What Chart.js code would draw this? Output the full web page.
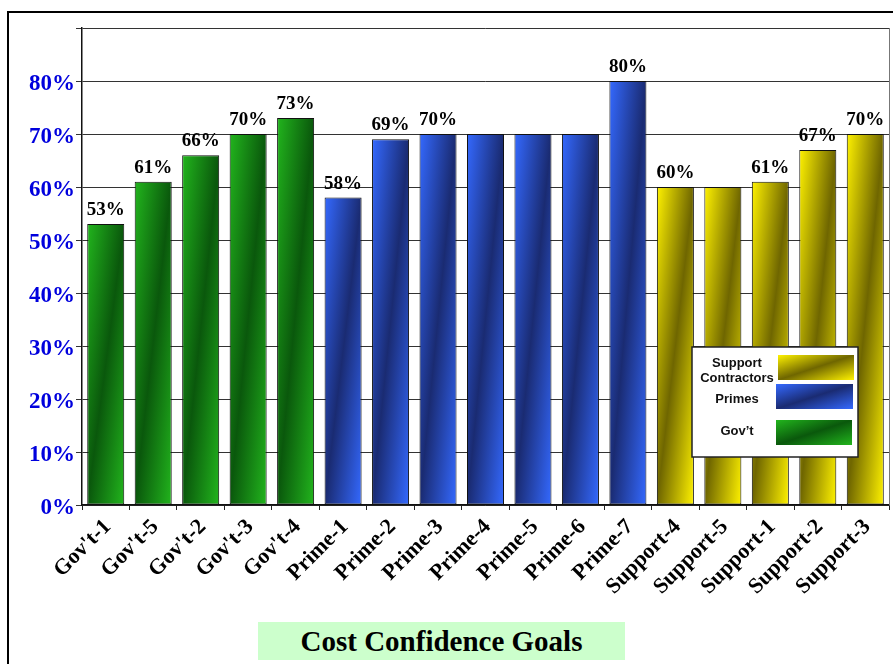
<!DOCTYPE html>
<html>
<head>
<meta charset="utf-8">
<script src="https://cdn.jsdelivr.net/npm/chart.js@4.4.1/dist/chart.umd.min.js"></script>
<style>
  html, body { margin: 0; padding: 0; background: #fff; overflow: hidden; }
  #wrap { position: relative; width: 893px; height: 664px; }
  #frame { position: absolute; left: 7px; top: 11px; width: 920px; height: 700px; border: 2px solid #000; }
  #goals { position: absolute; left: 0; top: 0; }
  #title {
    position: absolute; left: 258px; top: 622px; width: 367px; height: 38px;
    background: #ccffcc; font: bold 29px "Liberation Serif", "Times New Roman", serif;
    color: #000; text-align: center; line-height: 38px;
  }
</style>
</head>
<body>
<div id="wrap">
  <div id="frame"></div>
  <canvas id="goals" width="893" height="664"></canvas>
  <div id="title">Cost Confidence Goals</div>
</div>
<script>
// Categories and their group (gov / prime / support)
const categories = ["Gov't-1", "Gov't-5", "Gov't-2", "Gov't-3", "Gov't-4",
  'Prime-1', 'Prime-2', 'Prime-3', 'Prime-4', 'Prime-5', 'Prime-6', 'Prime-7',
  'Support-4', 'Support-5', 'Support-1', 'Support-2', 'Support-3'];
const groups = ['gov', 'gov', 'gov', 'gov', 'gov',
  'prime', 'prime', 'prime', 'prime', 'prime', 'prime', 'prime',
  'support', 'support', 'support', 'support', 'support'];
// Confidence goal in percent
const goalValues = [53, 61, 66, 70, 73, 58, 69, 70, 70, 70, 70, 80, 60, 60, 61, 67, 70];
// Which bars carry a value label (null = no label)
const valueLabels = [53, 61, 66, 70, 73, 58, 69, 70, null, null, null, 80, 60, null, 61, 67, 70];
// Axis ticks
const yTicks = [0, 10, 20, 30, 40, 50, 60, 70, 80, 90];

const palette = {
  gov: { light: '#22b51d', dark: '#0a580c', name: 'Gov\u2019t' },
  prime: { light: '#3469ff', dark: '#1a2b72', name: 'Primes' },
  support: { light: '#fff200', dark: '#6f6600', name: 'Support\nContractors' }
};

const serif = '"Liberation Serif", "Times New Roman", serif';
const sans = '"Liberation Sans", Arial, sans-serif';
const BAR_FRACTION = 0.78;

// light -> dark -> light along a shallow diagonal, like the old office fill
function diagGradient(ctx, left, top, w, h, light, dark) {
  const k = 2 * w * h / (h * h + w * w);
  const g = ctx.createLinearGradient(left, top, left + k * h, top + k * w);
  g.addColorStop(0, light);
  g.addColorStop(0.5, dark);
  g.addColorStop(1, light);
  return g;
}

function barFill(context) {
  const grp = palette[groups[context.dataIndex]];
  const chart = context.chart;
  const xs = chart.scales.x, ys = chart.scales.y;
  if (!xs || !ys || context.type !== 'data') return grp.light;
  const w = xs.width / categories.length * BAR_FRACTION;
  const left = xs.getPixelForValue(context.dataIndex) - w / 2;
  const top = ys.getPixelForValue(context.raw);
  const h = ys.getPixelForValue(0) - top;
  if (![w, left, top, h].every(Number.isFinite) || w <= 0 || h <= 0) return grp.light;
  return diagGradient(chart.ctx, left, top, w, h, grp.light, grp.dark);
}

// value labels over bars
const valueLabelPlugin = {
  id: 'valueLabels',
  afterDatasetsDraw(chart) {
    const ctx = chart.ctx;
    const meta = chart.getDatasetMeta(0);
    ctx.save();
    ctx.font = 'bold 19px ' + serif;
    ctx.fillStyle = '#000';
    ctx.textAlign = 'center';
    ctx.textBaseline = 'alphabetic';
    meta.data.forEach((bar, i) => {
      if (valueLabels[i] == null) return;
      ctx.fillText(valueLabels[i] + '%', bar.x, bar.y - 9);
    });
    ctx.restore();
  }
};

// right edge of plot + boxed legend
const framePlugin = {
  id: 'plotFrame',
  afterDraw(chart) {
    const ctx = chart.ctx;
    const a = chart.chartArea;
    ctx.save();
    ctx.strokeStyle = '#777';
    ctx.lineWidth = 1;
    ctx.beginPath();
    ctx.moveTo(a.right + 0.5, a.top);
    ctx.lineTo(a.right + 0.5, a.bottom);
    ctx.stroke();

    // legend box
    const bx = a.right - 197, by = a.bottom - 158, bw = 166, bh = 110;
    ctx.fillStyle = '#fff';
    ctx.fillRect(bx, by, bw, bh);
    ctx.strokeStyle = '#222';
    ctx.lineWidth = 1.5;
    ctx.strokeRect(bx, by, bw, bh);

    const items = [
      { key: 'support', sx: 86, sy: 8, sw: 76, sh: 25, ty: [16, 31] },
      { key: 'prime', sx: 84, sy: 37, sw: 77, sh: 25, ty: [52] },
      { key: 'gov', sx: 84, sy: 73, sw: 76, sh: 25, ty: [84] }
    ];
    ctx.font = 'bold 13px ' + sans;
    ctx.textAlign = 'center';
    ctx.textBaseline = 'middle';
    items.forEach(it => {
      const p = palette[it.key];
      const x0 = bx + it.sx, y0 = by + it.sy;
      ctx.fillStyle = diagGradient(ctx, x0, y0, it.sw, it.sh, p.light, p.dark);
      ctx.fillRect(x0, y0, it.sw, it.sh);
      ctx.fillStyle = '#111';
      p.name.split('\n').forEach((line, j) => {
        ctx.fillText(line, bx + 45, by + it.ty[j]);
      });
    });
    ctx.restore();
  }
};

new Chart(document.getElementById('goals').getContext('2d'), {
  type: 'bar',
  data: {
    labels: categories,
    datasets: [{
      data: goalValues,
      backgroundColor: barFill,
      borderColor: '#111',
      borderWidth: 1,
      borderSkipped: false,
      barPercentage: 1,
      categoryPercentage: BAR_FRACTION
    }]
  },
  options: {
    responsive: false,
    animation: false,
    layout: { padding: { left: 0, top: 28, right: 4, bottom: 0 } },
    plugins: {
      legend: { display: false },
      title: { display: false },
      tooltip: { enabled: false }
    },
    scales: {
      x: {
        offset: true,
        grid: { display: true, drawOnChartArea: false, color: '#222', tickLength: 5, offset: true },
        border: { display: true, color: '#111', width: 1.5 },
        ticks: {
          autoSkip: false,
          minRotation: 45,
          maxRotation: 45,
          padding: 4,
          labelOffset: 2,
          color: '#000',
          font: { family: serif, size: 22, weight: 'bold' }
        },
        afterFit(scale) { scale.height = 159; }
      },
      y: {
        min: 0,
        max: 90,
        afterBuildTicks(scale) { scale.ticks = yTicks.map(v => ({ value: v })); },
        grid: { color: '#333', lineWidth: 1, tickLength: 6 },
        border: { display: true, color: '#111', width: 1.5 },
        ticks: {
          padding: 1,
          labelOffset: 3,
          color: '#0000dd',
          font: { family: serif, size: 23, weight: 'bold' },
          callback: v => (v === 90 ? '' : v + '%')
        },
        afterFit(scale) { scale.width = 82; }
      }
    }
  },
  plugins: [valueLabelPlugin, framePlugin]
});
</script>
</body>
</html>
